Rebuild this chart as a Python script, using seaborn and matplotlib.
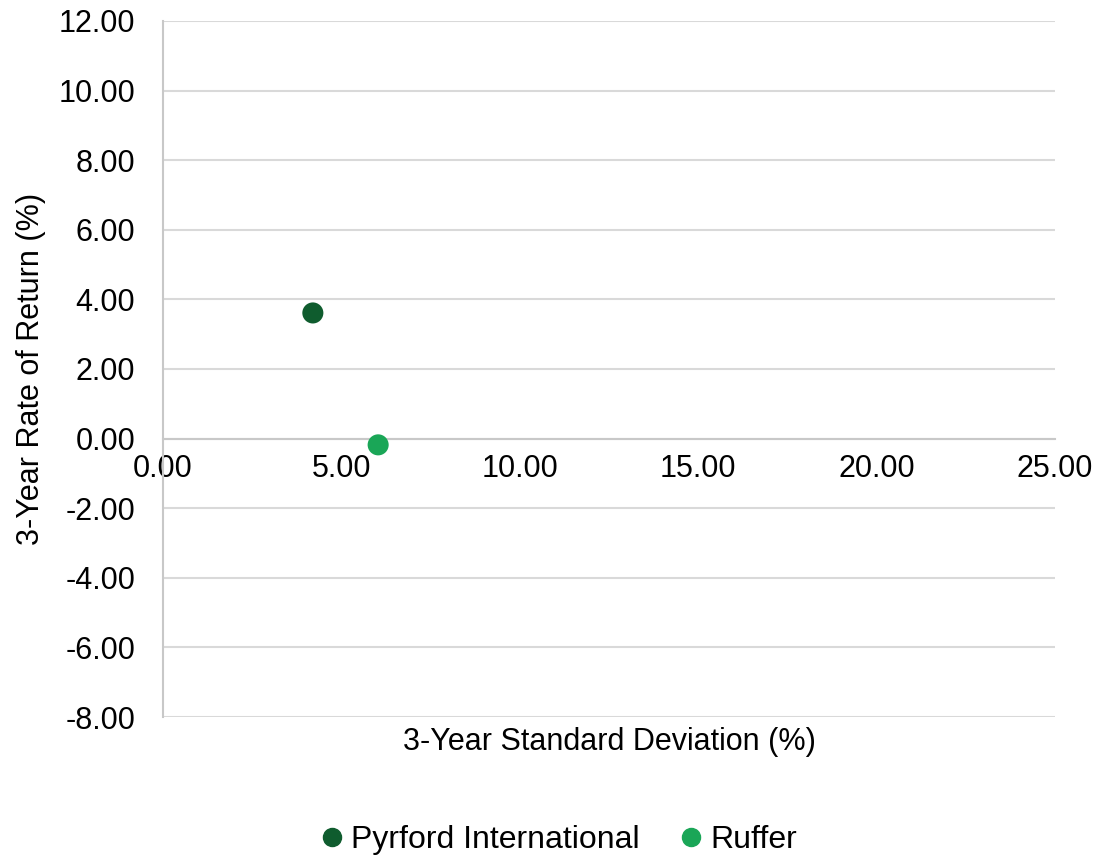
import matplotlib
matplotlib.use("Agg")
import matplotlib.pyplot as plt
import seaborn as sns
import pandas as pd
from matplotlib.lines import Line2D

funds = ["Pyrford International", "Ruffer"]
std_dev = [4.20, 6.03]
returns = [3.61, -0.18]
colors = ["#0f5c2e", "#1aa657"]

x_ticks = [0, 5, 10, 15, 20, 25]
y_ticks = [-8, -6, -4, -2, 0, 2, 4, 6, 8, 10, 12]

sns.set_theme(style="white")
plt.rcParams['font.family'] = ['Liberation Sans', 'DejaVu Sans']
plt.rcParams['text.color'] = '#000000'
plt.rcParams['axes.labelcolor'] = '#000000'

df = pd.DataFrame({"Fund": funds, "SD": std_dev, "Ret": returns})

fig = plt.figure(figsize=(10.99, 8.59), dpi=100)
ax = fig.add_axes([0.1483, 0.1653, 0.8117, 0.8103])

sns.scatterplot(data=df, x="SD", y="Ret", hue="Fund", palette=colors,
                s=230, edgecolor="none", ax=ax, legend=False, zorder=3)

for s in ["top", "right"]:
    ax.spines[s].set_visible(False)
ax.spines["left"].set_color("#c8c8c8")
ax.spines["left"].set_linewidth(1.5)
ax.spines["bottom"].set_position(("data", 0))
ax.spines["bottom"].set_color("#c8c8c8")
ax.spines["bottom"].set_linewidth(1.5)

ax.set_xlim(0, 25)
ax.set_ylim(-8, 12)
ax.set_xticks(x_ticks)
ax.set_yticks(y_ticks)
ax.set_xticklabels([f"{v:.2f}" for v in x_ticks])
ax.set_yticklabels([f"{v:.2f}" for v in y_ticks])
ax.tick_params(axis='both', length=0, labelsize=22, labelcolor="#000000")
ax.tick_params(axis='y', pad=20)
ax.tick_params(axis='x', pad=11)

ax.yaxis.grid(True, color="#d9d9d9", linewidth=1.5)
ax.xaxis.grid(False)
ax.set_axisbelow(True)

ax.set_xlabel("")
ax.set_ylabel("3-Year Rate of Return (%)", fontsize=22, labelpad=9, color="#000000")
fig.text(0.5545, 1 - 742 / 859, "3-Year Standard Deviation (%)", fontsize=22,
         ha="center", va="center", color="#000000")

handles = [Line2D([0], [0], marker='o', linestyle='', color=c, markersize=13)
           for c in colors]
leg = fig.legend(handles, funds, loc="center", bbox_to_anchor=(0.505, 1 - 840 / 859),
                 ncol=2, frameon=False, fontsize=23, handletextpad=0.0,
                 columnspacing=1.0, handlelength=1.2)
for t in leg.get_texts():
    t.set_color("#000000")

fig.savefig("out.png", dpi=100)
